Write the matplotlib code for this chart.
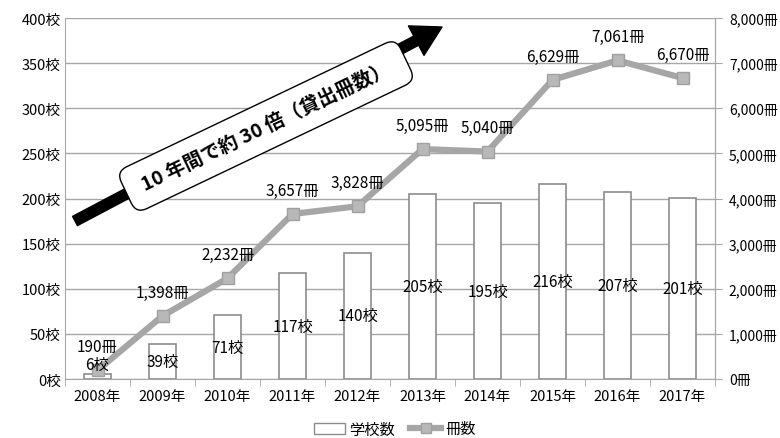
import matplotlib
matplotlib.use("Agg")
import matplotlib.pyplot as plt
from matplotlib.lines import Line2D
from matplotlib.patches import Patch

plt.rcParams['font.family'] = ['Noto Sans CJK JP', 'DejaVu Sans']

years = ['2008年', '2009年', '2010年', '2011年', '2012年', '2013年', '2014年', '2015年', '2016年', '2017年']
schools = [6, 39, 71, 117, 140, 205, 195, 216, 207, 201]
books = [190, 1398, 2232, 3657, 3828, 5095, 5040, 6629, 7061, 6670]
left_ticks = [0, 50, 100, 150, 200, 250, 300, 350, 400]
right_ticks = [0, 1000, 2000, 3000, 4000, 5000, 6000, 7000, 8000]

W, H = 780, 439
fig = plt.figure(figsize=(W / 100, H / 100), dpi=100)
ax = fig.add_axes([65 / W, 1 - 380 / H, 650 / W, 361 / H])
ax2 = ax.twinx()

grid_c = '#a6a6a6'
x = list(range(len(years)))

ax.bar(x, schools, width=0.43, facecolor='white', edgecolor='#8c8c8c', linewidth=1.2, zorder=2)
ax.set_ylim(0, 400)
ax.set_xlim(-0.5, len(years) - 0.5)
ax.set_yticks(left_ticks)
ax.set_yticklabels([f'{v}校' for v in left_ticks], fontsize=10.5)
ax.set_xticks(x)
ax.set_xticklabels(years, fontsize=10.5)
ax.tick_params(axis='x', length=0, pad=7)
ax.set_xticks([i - 0.5 for i in range(len(years) + 1)], minor=True)
ax.tick_params(axis='x', which='minor', length=5, color=grid_c)
ax.tick_params(axis='y', length=0, pad=3)
ax.yaxis.grid(True, color=grid_c, linewidth=1)
ax.set_axisbelow(True)
ax.spines['top'].set_visible(False)
for s in ['left', 'bottom', 'right']:
    ax.spines[s].set_color(grid_c)

ax2.plot(x, books, color='#a6a6a6', linewidth=4.5, marker='s', markersize=8,
         markerfacecolor='#b8b8b8', markeredgecolor='#a0a0a0', zorder=3)
ax2.set_ylim(0, 8000)
ax2.set_yticks(right_ticks)
ax2.set_yticklabels([f'{v:,}冊' for v in right_ticks], fontsize=10)
ax2.tick_params(axis='y', length=5, color=grid_c, pad=5)
for s in ['top', 'left', 'bottom']:
    ax2.spines[s].set_visible(False)
ax2.spines['right'].set_color(grid_c)

# bar labels drawn on the top axes so they sit above the line
for i, v in enumerate(schools):
    ax2.text(i, max(v, 33) / 2, f'{v}校', ha='center', va='center', fontsize=11,
             transform=ax.transData, zorder=5)

for i, v in enumerate(books):
    ax2.annotate(f'{v:,}冊', (i, v), xytext=(0, 17), textcoords='offset points',
                 ha='center', va='center', fontsize=11, zorder=6)

# arrow and callout
ax.annotate('', xy=(442, H - 28), xytext=(75, H - 222), xycoords='figure pixels',
            textcoords='figure pixels',
            arrowprops=dict(arrowstyle='simple,head_length=1.4,head_width=1.6,tail_width=0.5',
                            color='black', mutation_scale=15, shrinkA=0, shrinkB=0),
            annotation_clip=False, zorder=10)
fig.text(266 / W, 1 - 127 / H, ' 10 年間で約 30 倍（貸出冊数） ', rotation=25.5,
         rotation_mode='anchor', ha='center', va='center', fontsize=14, fontweight='bold',
         bbox=dict(boxstyle='round,pad=0.7,rounding_size=0.6', fc='white', ec='black', lw=1),
         zorder=11)

handles = [Patch(facecolor='white', edgecolor='#8c8c8c', label='学校数'),
           Line2D([0], [0], color='#a6a6a6', linewidth=4.5, marker='s', markersize=7,
                  markerfacecolor='#b8b8b8', markeredgecolor='#a0a0a0', label='冊数')]
fig.legend(handles=handles, loc='center', bbox_to_anchor=(395 / W, 1 - 430 / H), ncol=2,
           frameon=False, fontsize=11, handlelength=2.0, columnspacing=1.0, handletextpad=0.3)

fig.savefig('out.png', dpi=100)
